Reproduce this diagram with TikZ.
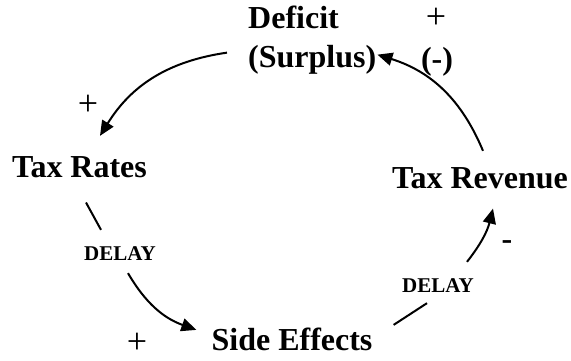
\documentclass[tikz,border=0pt]{standalone}
\usepackage{fontspec}
\setmainfont{Liberation Serif}
\usetikzlibrary{arrows.meta}
\begin{document}
\begin{tikzpicture}[x=1pt,y=1pt,
    var/.style={font=\fontsize{32}{39}\selectfont\bfseries,inner sep=0pt},
    delaylbl/.style={font=\fontsize{21}{24}\selectfont\bfseries,inner sep=0pt},
    sign/.style={font=\fontsize{36}{40}\selectfont,inner sep=0pt},
    link/.style={line width=2pt,-{Triangle[length=15pt,width=13pt]}},
    plain/.style={line width=2pt}]
    \useasboundingbox (0,0) rectangle (571,360);
    \node[var,align=left,anchor=base west] (deficit) at (248,293) {Deficit\\(Surplus)};
    \node[var,anchor=base] (taxrates) at (79.5,183) {Tax Rates};
    \node[var,anchor=base] (sideeff) at (292,10) {Side Effects};
    \node[var,anchor=base] (taxrev) at (480,172) {Tax Revenue};
    \node[delaylbl] (delayA) at (120,106) {DELAY};
    \node[delaylbl] (delayB) at (438,74) {DELAY};
    \node[sign] (plusA) at (436,342) {+};
    \node[var] (minusA) at (437,298) {(-)};
    \node[sign] (plusB) at (88,255) {+};
    \node[sign] (plusC) at (137,17) {+};
    \node[var] (minusB) at (507,115) {-};
    \draw[link] ([xshift=-21pt,yshift=-13pt]deficit.west) to[bend right=25] ([xshift=20.5pt,yshift=20pt]taxrates.north);
    \draw[plain] ([xshift=6.5pt,yshift=-25pt]taxrates.south) -- ([xshift=-19pt,yshift=17pt]delayA.north);
    \draw[link] ([xshift=8pt,yshift=-12pt]delayA.south) to[bend right=20] ([xshift=-15pt,yshift=9pt]sideeff.west);
    \draw[plain] ([xshift=21pt,yshift=14pt]sideeff.east) -- ([xshift=-11pt,yshift=-10pt]delayB.south);
    \draw[link] ([xshift=29pt,yshift=17pt]delayB.north) to[bend right=12] ([xshift=13pt,yshift=-20pt]taxrev.south);
    \draw[link] ([xshift=3pt,yshift=16pt]taxrev.north) to[bend right=25] ([xshift=1pt,yshift=-15pt]deficit.east);
\end{tikzpicture}
\end{document}
